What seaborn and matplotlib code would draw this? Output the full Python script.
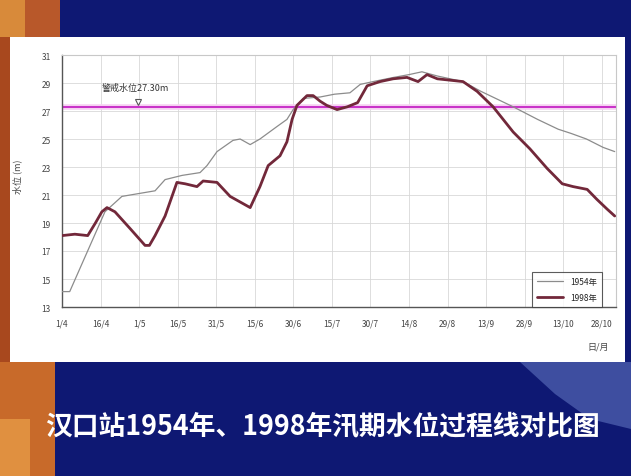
import numpy as np
import pandas as pd
import seaborn as sns
import matplotlib
matplotlib.use("Agg")
import matplotlib.pyplot as plt
from matplotlib.patches import Rectangle, Polygon

# days counted from 1 April
days_1954 = [0, 3, 16.7, 23.3, 36.2, 40.1, 46.7, 53.7, 56.4, 60.3, 66.5, 69.3, 73.2, 77.0,
             83.7, 87.5, 89.9, 93.8, 100.4, 106, 112, 116, 121, 129, 135, 140, 146, 156,
             163, 175.5, 185, 193, 198, 204, 210.5, 215]
level_1954 = [14.1, 14.1, 19.8, 20.9, 21.3, 22.1, 22.4, 22.6, 23.1, 24.1, 24.9, 25.0, 24.6, 25.0,
              25.9, 26.4, 27.1, 27.9, 28.0, 28.2, 28.3, 28.9, 29.1, 29.4, 29.6, 29.8, 29.5, 29.1,
              28.4, 27.3, 26.4, 25.7, 25.4, 25.0, 24.4, 24.1]

days_1998 = [0, 5, 10, 13, 15.5, 17.5, 20.6, 26.5, 32.3, 34, 36.2, 40.1, 44.7, 47.9, 52.5, 54.9,
             60.3, 65.4, 69.3, 73.2, 77.0, 80.2, 84.8, 87.5, 89.5, 91.4, 95.3, 97.7, 100.4,
             103, 107, 111, 115, 118.7, 123.7, 128.8, 134.2, 138.5, 142, 146, 156, 161.5,
             167.7, 175.5, 182, 188.7, 194.6, 198.8, 204.3, 208, 212, 215]
level_1998 = [18.1, 18.2, 18.1, 19.0, 19.8, 20.1, 19.8, 18.6, 17.4, 17.4, 18.1, 19.5, 21.9, 21.8, 21.6, 22.0,
              21.9, 20.9, 20.5, 20.1, 21.6, 23.1, 23.8, 24.8, 26.4, 27.4, 28.1, 28.1, 27.7,
              27.4, 27.1, 27.3, 27.6, 28.8, 29.1, 29.3, 29.4, 29.1, 29.6, 29.3, 29.1, 28.4,
              27.3, 25.5, 24.3, 22.9, 21.8, 21.6, 21.4, 20.7, 20.0, 19.5]

tick_days = list(range(0, 211, 15))
tick_labels = ["1/4", "16/4", "1/5", "16/5", "31/5", "15/6", "30/6", "15/7", "30/7",
               "14/8", "29/8", "13/9", "28/9", "13/10", "28/10"]
y_ticks = list(range(13, 32, 2))
warning_level = 27.3

sns.set_style("white")
plt.rcParams['font.family'] = ['Noto Sans CJK SC', 'DejaVu Sans']

W, H = 631, 477
fig = plt.figure(figsize=(6.31, 4.77), dpi=100, facecolor='#0e1873')

def box(x0, y0, x1, y1, color):
    fig.add_artist(Rectangle((x0 / W, 1 - y1 / H), (x1 - x0) / W, (y1 - y0) / H,
                             transform=fig.transFigure, color=color, lw=0, zorder=0))

# slide decoration
box(0, 0, 60, 38, '#b8582a')
box(0, 0, 25, 38, '#d88a3a')
box(0, 38, 10, 363, '#a8481e')
box(0, 363, 55, 477, '#c86a2a')
box(0, 420, 30, 477, '#e09040')
fig.add_artist(Polygon([(520 / W, 1 - 363 / H), (1, 1 - 363 / H), (1, 1 - 430 / H),
                        (590 / W, 1 - 420 / H), (555 / W, 1 - 395 / H)],
                       transform=fig.transFigure, color='#3e4ea0', lw=0, zorder=0))
box(10, 38, 625, 363, 'white')

ax = fig.add_axes([62 / W, 1 - 308 / H, 554 / W, 252 / H])
ax.set_facecolor('white')

df54 = pd.DataFrame({'day': days_1954, 'level': level_1954})
df98 = pd.DataFrame({'day': days_1998, 'level': level_1998})

ax.axhline(warning_level, color='#f6d0f2', lw=4, zorder=1)
ax.axhline(warning_level, color='#c830c8', lw=1.4, zorder=2)
sns.lineplot(data=df54, x='day', y='level', color='#8c8c8c', lw=0.9, label='1954年', ax=ax, zorder=3)
sns.lineplot(data=df98, x='day', y='level', color='#72283a', lw=2.0, label='1998年', ax=ax, zorder=4)

ax.text(15.6, 28.66, '警戒水位27.30m', fontsize=6.5, va='center', color='#333333')
ax.plot([29.6], [27.66], marker='v', mfc='white', mec='#555555', ms=5, mew=0.8, zorder=5)

ax.set_xlim(0, 215.5)
ax.set_ylim(13, 31)
ax.set_xticks(tick_days)
ax.set_xticklabels(tick_labels)
ax.set_yticks(y_ticks)
ax.grid(True, color='#d8d8d8', lw=0.6)
ax.tick_params(labelsize=6, colors='#444444', length=2, pad=6)
for s in ['left', 'bottom']:
    ax.spines[s].set_color('#555555')
    ax.spines[s].set_linewidth(1.0)
for s in ['top', 'right']:
    ax.spines[s].set_color('#c8c8c8')
    ax.spines[s].set_linewidth(0.8)
ax.set_xlabel('')
ax.set_ylabel('')

leg = ax.legend(loc='lower right', bbox_to_anchor=(540 / 554, 0), borderaxespad=0,
                fontsize=6, frameon=True, fancybox=False, edgecolor='#333333',
                handlelength=3.2, borderpad=0.6, labelspacing=0.9)
leg.get_frame().set_linewidth(0.8)

fig.text(17 / W, 1 - 177 / H, '水位 (m)', rotation=90, fontsize=6.5, color='#444444',
         ha='center', va='center')
fig.text(598 / W, 1 - 347 / H, '日/月', fontsize=6.5, color='#444444', ha='center', va='center')

fig.text(322 / W, 1 - 427 / H, '汉口站1954年、1998年汛期水位过程线对比图', fontsize=19.3,
         fontweight='bold', color='white', ha='center', va='center')

fig.savefig('out.png', dpi=100, facecolor=fig.get_facecolor())
